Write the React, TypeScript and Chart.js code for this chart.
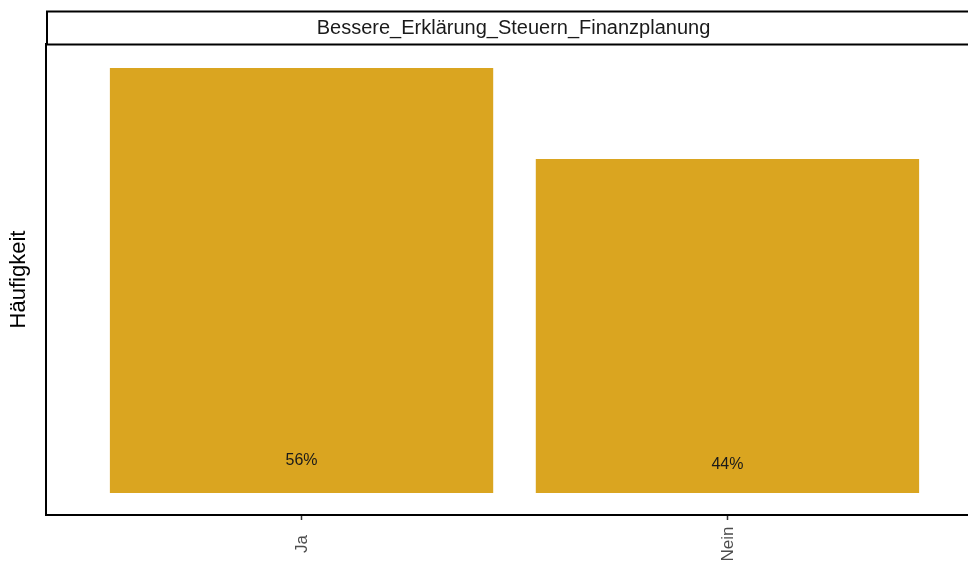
import React, { useEffect, useRef } from "react";
import { Chart, registerables } from "chart.js";

Chart.register(...registerables);

const categories = ["Ja", "Nein"];
const percentages = [56, 44];
const valueLabels = ["56%", "44%"];
const facetTitle = "Bessere_Erklärung_Steuern_Finanzplanung";
const yTitle = "Häufigkeit";

const BAR_COLOR = "#DAA520";
const FONT = "'Liberation Sans', Arial, Helvetica, sans-serif";

// Facet strip above the panel plus rotated category labels and in-bar percentages
const decorations = {
  id: "decorations",
  afterDraw(chart: any) {
    const { ctx, chartArea, scales } = chart;
    const x = scales.x;
    const y = scales.y;
    ctx.save();

    // strip
    ctx.fillStyle = "#ffffff";
    ctx.fillRect(chartArea.left + 1, 11, chartArea.right - chartArea.left + 20, 33);
    ctx.strokeStyle = "#000000";
    ctx.lineWidth = 2;
    ctx.strokeRect(chartArea.left + 1, 11.5, chartArea.right - chartArea.left + 20, 33);
    ctx.fillStyle = "#1a1a1a";
    ctx.font = `20px ${FONT}`;
    ctx.textAlign = "center";
    ctx.textBaseline = "middle";
    ctx.fillText(facetTitle, (chartArea.left + chartArea.right) / 2 - 1, 28.5);

    // percentages inside bars
    ctx.font = `16px ${FONT}`;
    ctx.fillStyle = "#1a1a1a";
    percentages.forEach((v, i) => {
      const px = x.getPixelForValue(i + 1);
      const py = y.getPixelForValue(2 + 0.04 * v);
      ctx.fillText(valueLabels[i], px, py);
    });

    // category labels, rotated
    ctx.font = `17px ${FONT}`;
    ctx.fillStyle = "#4d4d4d";
    categories.forEach((c, i) => {
      const px = x.getPixelForValue(i + 1);
      ctx.save();
      ctx.translate(px + 1, chartArea.bottom + 29);
      ctx.rotate(-Math.PI / 2);
      ctx.textAlign = "center";
      ctx.textBaseline = "middle";
      ctx.fillText(c, 0, 0);
      ctx.restore();
    });

    ctx.restore();
  },
};

export default function App() {
  const canvasRef = useRef<HTMLCanvasElement | null>(null);

  useEffect(() => {
    document.body.style.margin = "0";
    const canvas = canvasRef.current;
    if (!canvas) return;
    const chart = new Chart(canvas, {
      type: "bar",
      data: {
        datasets: [
          {
            data: percentages.map((v, i) => ({ x: i + 1, y: v })),
            backgroundColor: BAR_COLOR,
            borderWidth: 0,
            barPercentage: 0.9,
            categoryPercentage: 1,
          },
        ],
      },
      options: {
        responsive: true,
        maintainAspectRatio: false,
        animation: false,
        devicePixelRatio: 1,
        layout: { padding: { top: 44, right: 17, bottom: 0, left: 0 } },
        plugins: {
          legend: { display: false },
          tooltip: { enabled: false },
        },
        scales: {
          x: {
            type: "linear",
            min: 0.4,
            max: 2.6,
            offset: false,
            afterBuildTicks: (scale: any) => {
              scale.ticks = categories.map((_, i) => ({ value: i + 1 }));
            },
            afterFit: (scale: any) => {
              scale.height = 48;
            },
            ticks: { display: false },
            grid: {
              display: true,
              offset: false,
              drawOnChartArea: false,
              drawTicks: true,
              tickLength: 5,
              tickWidth: 1.5,
              tickColor: "#333333",
            },
            border: { display: true, color: "#000000", width: 2 },
          },
          y: {
            type: "linear",
            min: -2.9,
            max: 59.15,
            afterFit: (scale: any) => {
              scale.width = 46;
            },
            ticks: { display: false },
            grid: { display: false, drawTicks: false },
            border: { display: true, color: "#000000", width: 2 },
            title: {
              display: true,
              text: yTitle,
              color: "#000000",
              font: { family: FONT, size: 22 },
              padding: { top: 6, bottom: 0 },
            },
          },
        },
      },
      plugins: [decorations],
    });
    return () => chart.destroy();
  }, []);

  return (
    <div style={{ position: "absolute", left: 0, top: 0, width: 968, height: 563, overflow: "hidden", background: "#fff" }}>
      <div style={{ position: "relative", width: 1000, height: 563 }}>
        <canvas ref={canvasRef} />
      </div>
    </div>
  );
}
